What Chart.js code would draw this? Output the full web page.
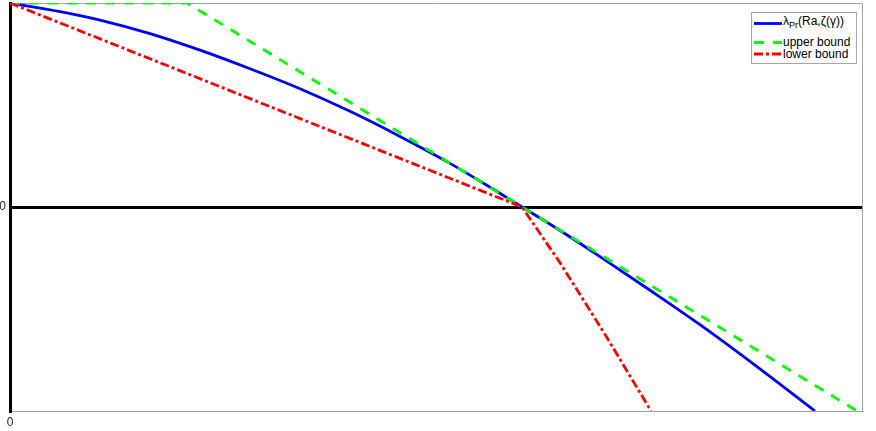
<!DOCTYPE html>
<html><head><meta charset="utf-8">
<script src="https://cdn.jsdelivr.net/npm/chart.js@4"></script>
<style>
html,body{margin:0;padding:0;background:#fff;}
#wrap{position:relative;width:876px;height:431px;}
#legend{position:absolute;left:751px;top:12px;width:106px;height:52px;border:1px solid #a6a6a6;background:#fff;box-sizing:border-box;font-family:"Liberation Sans",Arial,sans-serif;font-size:12px;color:#000;}
#legend span{position:absolute;left:31px;white-space:nowrap;line-height:13px;}
#legend sub{font-size:9px;vertical-align:-3px;line-height:0;}
#legend svg{position:absolute;left:0;top:0;}
</style>
</head><body>
<div id="wrap">
<canvas id="c" width="876" height="431"></canvas>
<div id="legend">
<svg width="106" height="52">
<line x1="2" y1="10.5" x2="30" y2="10.5" stroke="#0000ff" stroke-width="2.8"/>
<line x1="2" y1="29.5" x2="30" y2="29.5" stroke="#00ff00" stroke-width="2.8" stroke-dasharray="10,9"/>
<line x1="2" y1="41" x2="30" y2="41" stroke="#ff0000" stroke-width="2.8" stroke-dasharray="9,3,3,3"/>
</svg>
<span style="top:2px">λ<sub>Pr</sub>(Ra,ζ(γ))</span>
<span style="top:23px">upper bound</span>
<span style="top:35px">lower bound</span>
</div>
</div>
<script>
// Data (normalised units: x 0..1, y -1..1)
const blueX = [0, 0.0586, 0.1055, 0.1641, 0.2227, 0.2814, 0.3400, 0.3986, 0.4572, 0.5158, 0.5580, 0.6002, 0.6448, 0.6917, 0.7503, 0.8089, 0.8675, 0.9437];
const blueY = [1, 0.958, 0.9165, 0.850, 0.769, 0.678, 0.580, 0.469, 0.346, 0.214, 0.109, 0, -0.115, -0.243, -0.408, -0.577, -0.757, -1];
const upperX = [0, 0.2075, 0.993];
const upperY = [1, 1, -1];
const lowerX = [0, 0.6002, 0.6448, 0.700, 0.7515];
const lowerY = [1, 0, -0.273, -0.641, -1];
const xTickValues = [0];
const xTickLabels = ['0'];
const yTickValues = [0];
const yTickLabels = ['0'];

const toPts = (xs, ys) => xs.map((x, i) => ({x: x, y: ys[i]}));
const tickFont = {family: '"Liberation Sans", Arial, sans-serif', size: 12};

const framePlugin = {
  id: 'frame',
  beforeDatasetsDraw(chart) {
    const {ctx, chartArea: a} = chart;
    ctx.save();
    ctx.strokeStyle = '#a6a6a6';
    ctx.lineWidth = 1;
    ctx.beginPath();
    ctx.moveTo(a.left, a.top + 0.5);
    ctx.lineTo(a.right - 0.5, a.top + 0.5);
    ctx.lineTo(a.right - 0.5, a.bottom);
    ctx.stroke();
    ctx.restore();
  }
};

new Chart(document.getElementById('c'), {
  type: 'line',
  data: {
    datasets: [
      {label: 'lower bound', data: toPts(lowerX, lowerY), borderColor: '#ff0000', borderWidth: 2.8, borderDash: [9, 3, 3, 3], pointRadius: 0, tension: 0, fill: false},
      {label: 'upper bound', data: toPts(upperX, upperY), borderColor: '#00ff00', borderWidth: 2.8, borderDash: [10, 9], pointRadius: 0, tension: 0, fill: false},
      {label: 'λPr(Ra,ζ(γ))', data: toPts(blueX, blueY), borderColor: '#0000ff', borderWidth: 2.8, pointRadius: 0, cubicInterpolationMode: 'monotone', fill: false}
    ]
  },
  options: {
    responsive: false,
    animation: false,
    layout: {padding: {top: 3, right: 13, left: 0, bottom: 0}},
    plugins: {legend: {display: false}, tooltip: {enabled: false}},
    scales: {
      x: {
        type: 'linear', min: 0, max: 1,
        afterBuildTicks: s => { s.ticks = xTickValues.map(v => ({value: v})); },
        afterFit: s => { s.height = 20; s.paddingLeft = 0; s.paddingRight = 0; },
        grid: {display: false, drawTicks: false},
        border: {display: true, color: '#a6a6a6', width: 1},
        ticks: {padding: 4, font: tickFont, color: '#262626', maxRotation: 0,
          callback: (v) => { const i = xTickValues.indexOf(v); return i >= 0 ? xTickLabels[i] : ''; }}
      },
      y: {
        type: 'linear', min: -1, max: 1,
        afterBuildTicks: s => { s.ticks = yTickValues.map(v => ({value: v})); },
        afterFit: s => { s.width = 10; s.paddingTop = 0; s.paddingBottom = 0; },
        grid: {drawTicks: false, color: c => (c.tick && c.tick.value === 0) ? '#000' : 'rgba(0,0,0,0)', lineWidth: 3},
        border: {display: true, color: '#000', width: 3},
        ticks: {padding: 4, font: tickFont, color: '#262626',
          callback: (v) => { const i = yTickValues.indexOf(v); return i >= 0 ? yTickLabels[i] : ''; }}
      }
    }
  },
  plugins: [framePlugin]
});
</script>
</body></html>
